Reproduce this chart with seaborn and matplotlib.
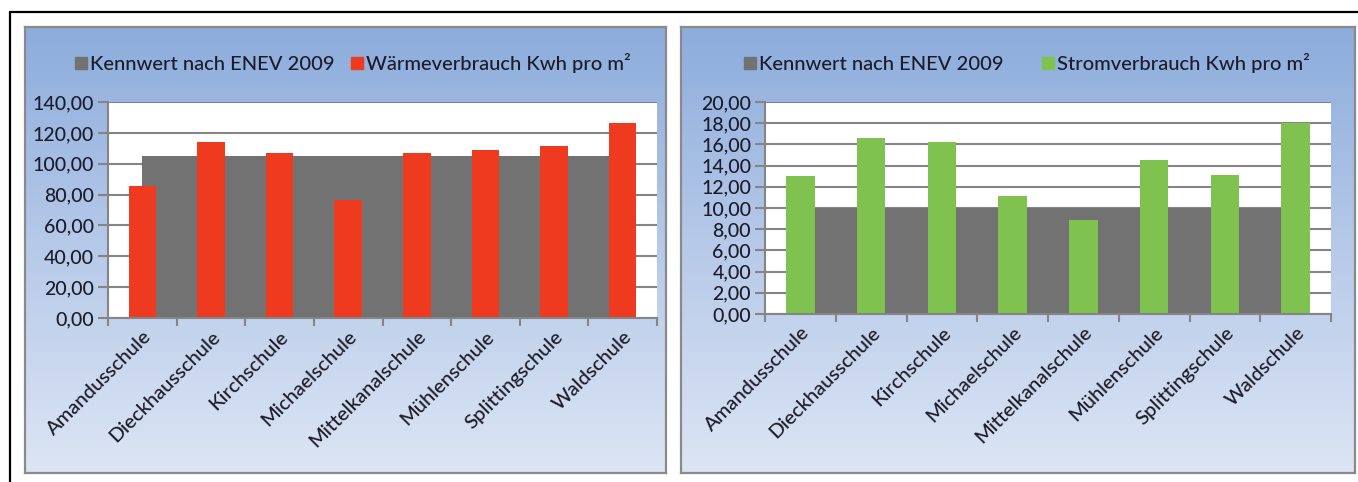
import numpy as np
import pandas as pd
import matplotlib
matplotlib.use("Agg")
import matplotlib.pyplot as plt
import seaborn as sns
from matplotlib.lines import Line2D
from matplotlib.colors import LinearSegmentedColormap

schools = ["Amandusschule", "Dieckhausschule", "Kirchschule", "Michaelschule",
           "Mittelkanalschule", "Mühlenschule", "Splittingschule", "Waldschule"]
kennwert_waerme = [105, 105, 105, 105, 105, 105, 105, 105]
waerme = [85.5, 113.8, 106.9, 76.5, 106.9, 109.0, 111.5, 126.5]
kennwert_strom = [10, 10, 10, 10, 10, 10, 10, 10]
strom = [13.0, 16.6, 16.2, 11.1, 8.9, 14.5, 13.1, 18.0]
yticks_left = [0, 20, 40, 60, 80, 100, 120, 140]
yticks_right = [0, 2, 4, 6, 8, 10, 12, 14, 16, 18, 20]

sns.set_style("white")
plt.rcParams['font.family'] = ['Lato', 'DejaVu Sans']

W, H = 1358, 482
fig = plt.figure(figsize=(W / 100, H / 100), dpi=100)
fig.patch.set_facecolor("white")

RED = "#EE3B1F"
GREEN = "#80C24F"
GRAY = "#727272"
GRID = "#858585"
TXT = "#1c1c2a"
FW = "medium"


def fx(x):
    return x / W


def fy(y):
    return 1 - y / H


# outer black frame lines (left + top)
fig.add_artist(Line2D([fx(10), fx(10)], [fy(12), 0], color="black", lw=1.6))
fig.add_artist(Line2D([fx(10), 1], [fy(12), fy(12)], color="black", lw=1.6))

cmap = LinearSegmentedColormap.from_list("bg", ["#8CACDC", "#B7CAE9", "#DCE5F4"])


def panel(x0, y0, x1, y1):
    bg = fig.add_axes([fx(x0), fy(y1), fx(x1 - x0), (y1 - y0) / H], zorder=0)
    grad = np.linspace(0, 1, 256).reshape(-1, 1)
    bg.imshow(grad, aspect="auto", cmap=cmap, extent=[0, 1, 0, 1], origin="upper")
    bg.set_xticks([])
    bg.set_yticks([])
    for s in bg.spines.values():
        s.set_color("#8a8a8a")
        s.set_linewidth(1.6)
    return bg


panel(25, 27, 666, 473)
panel(681, 27, 1355, 473)


def chart(x0, x1, ytop, ybot, vals, ref, color, yticks, ymax, labels):
    ax = fig.add_axes([fx(x0), fy(ybot), fx(x1 - x0), (ybot - ytop) / H], zorder=2)
    ax.set_facecolor("white")
    xs = np.arange(len(schools))
    for t in yticks:
        ax.axhline(t, color=GRID, lw=1.5, zorder=0)
    ax.fill_between(xs, 0, ref, color=GRAY, lw=0, zorder=1)
    df = pd.DataFrame({"Schule": schools, "Wert": vals})
    sns.barplot(data=df, x="Schule", y="Wert", color=color, width=0.4,
                saturation=1, ax=ax, zorder=2, linewidth=0)
    ax.set_xlim(-0.5, len(schools) - 0.5)
    ax.set_ylim(0, ymax)
    ax.set_xlabel("")
    ax.set_ylabel("")
    ax.set_yticks(yticks)
    ax.set_yticklabels([f"{t:.2f}".replace(".", ",") for t in yticks],
                       fontsize=14, color=TXT, fontweight=FW)
    ax.tick_params(axis="y", length=7, width=1.5, color=GRID, pad=3, left=True)
    ax.set_xticks(xs)
    ax.set_xticklabels(labels, rotation=45, ha="right", rotation_mode="anchor",
                       fontsize=14.5, color=TXT, fontweight=FW)
    ax.tick_params(axis="x", length=0, pad=7)
    ax.set_xticks(np.arange(-0.5, len(schools)), minor=True)
    ax.tick_params(axis="x", which="minor", length=6, width=1.5, color=GRID, bottom=True)
    for s in ["top", "right"]:
        ax.spines[s].set_visible(False)
    ax.spines["left"].set_color(GRID)
    ax.spines["left"].set_linewidth(1.5)
    ax.spines["bottom"].set_color(GRID)
    ax.spines["bottom"].set_linewidth(1.5)
    return ax


axL = chart(108, 657, 102, 318, waerme, kennwert_waerme, RED, yticks_left, 140, schools)
axR = chart(765, 1331, 102, 314, strom, kennwert_strom, GREEN, yticks_right, 20, schools)

legend_font = {"size": 14.5, "weight": FW}
hL = [Line2D([], [], marker="s", ls="", color=GRAY, markersize=8),
      Line2D([], [], marker="s", ls="", color=RED, markersize=8)]
fig.legend(hL, ["Kennwert nach ENEV 2009", "Wärmeverbrauch Kwh pro m²"],
           loc="center", bbox_to_anchor=(fx(352), fy(63)), ncol=2, frameon=False,
           prop=legend_font, handletextpad=0.05, columnspacing=0.7, handlelength=0.8,
           labelcolor=TXT)
hR = [Line2D([], [], marker="s", ls="", color=GRAY, markersize=8),
      Line2D([], [], marker="s", ls="", color=GREEN, markersize=8)]
fig.legend(hR, ["Kennwert nach ENEV 2009", "Stromverbrauch Kwh pro m²"],
           loc="center", bbox_to_anchor=(fx(1026), fy(63)), ncol=2, frameon=False,
           prop=legend_font, handletextpad=0.05, columnspacing=1.8, handlelength=0.8,
           labelcolor=TXT)

fig.savefig("out.png", dpi=100)
